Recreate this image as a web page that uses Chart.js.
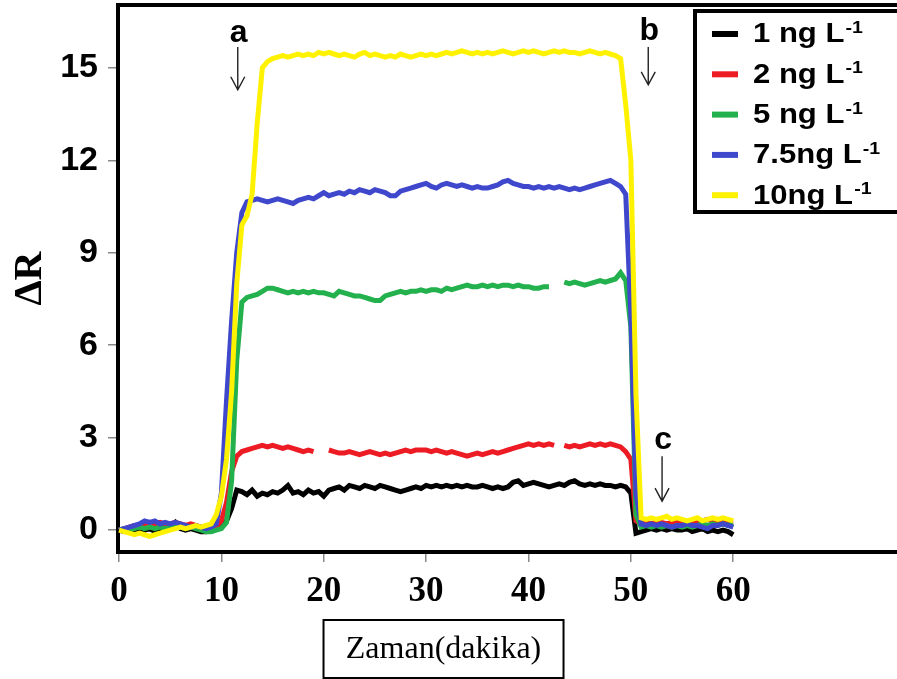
<!DOCTYPE html>
<html>
<head>
<meta charset="utf-8">
<script src="https://cdn.jsdelivr.net/npm/chart.js@4.4.1/dist/chart.umd.min.js"></script>
<style>
body{margin:0;background:#fff;}
</style>
</head>
<body>
<canvas id="grafik" width="897" height="679"></canvas>
<script>
// zaman (dakika)
const zaman = [
  0,0.5,1,1.5,2,2.5,3,3.5,4,4.5,
  5,5.5,6,6.5,7,7.5,8,8.5,9,9.5,
  10,10.5,11,11.5,12,12.5,13,13.5,14,14.5,
  15,15.5,16,16.5,17,17.5,18,18.5,19,19.5,
  20,20.5,21,21.5,22,22.5,23,23.5,24,24.5,
  25,25.5,26,26.5,27,27.5,28,28.5,29,29.5,
  30,30.5,31,31.5,32,32.5,33,33.5,34,34.5,
  35,35.5,36,36.5,37,37.5,38,38.5,39,39.5,
  40,40.5,41,41.5,42,42.5,43,43.5,44,44.5,
  45,45.5,46,46.5,47,47.5,48,48.5,49,49.5,
  50,50.5,51,51.5,52,52.5,53,53.5,54,54.5,
  55,55.5,56,56.5,57,57.5,58,58.5,59,59.5,
  60
];

// 1 ng L-1
const seri1 = [
  0.0,-0.05,0.05,0.0,0.05,0.0,0.05,-0.05,0.0,0.05,
  0.1,0.25,0.05,0.0,0.05,0.0,-0.05,-0.05,0.0,0.05,
  0.1,0.3,0.7,1.3,1.25,1.15,1.3,1.1,1.2,1.15,
  1.25,1.2,1.3,1.45,1.2,1.25,1.15,1.3,1.2,1.25,
  1.1,1.3,1.35,1.4,1.3,1.45,1.4,1.35,1.45,1.4,
  1.35,1.45,1.4,1.35,1.3,1.25,1.3,1.35,1.4,1.35,
  1.45,1.4,1.45,1.4,1.45,1.4,1.45,1.4,1.45,1.4,
  1.4,1.45,1.4,1.35,1.4,1.35,1.4,1.55,1.6,1.45,
  1.5,1.55,1.5,1.45,1.4,1.45,1.5,1.45,1.55,1.6,
  1.5,1.45,1.5,1.45,1.5,1.45,1.45,1.4,1.45,1.4,
  1.2,-0.1,-0.05,0.0,0.05,0.0,0.05,0.0,0.05,0.0,
  0.0,0.05,-0.05,0.0,0.05,-0.05,0.0,-0.05,0.0,-0.05,
  -0.15
];

// 2 ng L-1
const seri2 = [
  0.0,0.05,0.1,0.15,0.1,0.2,0.25,0.2,0.25,0.2,
  0.2,0.25,0.2,0.15,0.2,0.15,0.1,0.05,0.05,0.1,
  0.3,0.9,1.9,2.4,2.55,2.6,2.65,2.7,2.75,2.7,
  2.75,2.7,2.65,2.7,2.65,2.6,2.55,2.6,2.55,null,
  null,2.6,2.55,2.5,2.5,2.55,2.5,2.45,2.5,2.55,
  2.5,2.45,2.5,2.45,2.5,2.55,2.6,2.55,2.6,2.6,
  2.6,2.55,2.6,2.55,2.5,2.55,2.5,2.45,2.4,2.45,
  2.5,2.45,2.5,2.55,2.5,2.55,2.6,2.65,2.7,2.75,
  2.8,2.75,2.8,2.75,2.8,2.75,null,2.75,2.7,2.75,
  2.7,2.75,2.8,2.75,2.8,2.75,2.8,2.75,2.7,2.55,
  2.3,0.3,0.2,0.25,0.2,0.3,0.25,0.2,0.25,0.3,
  0.3,0.25,0.3,0.25,0.3,0.35,0.3,0.25,0.3,0.25,
  0.25
];

// 5 ng L-1
const seri3 = [
  0.0,0.05,0.0,0.05,0.1,0.05,0.1,0.05,0.1,0.05,
  0.1,0.15,0.1,0.05,0.1,0.05,0.0,-0.05,-0.05,0.0,
  0.05,0.25,1.6,5.5,7.4,7.55,7.6,7.65,7.75,7.85,
  7.85,7.8,7.75,7.7,7.75,7.7,7.75,7.7,7.75,7.7,
  7.7,7.65,7.6,7.75,7.7,7.65,7.6,7.6,7.55,7.5,
  7.45,7.45,7.6,7.65,7.7,7.75,7.7,7.75,7.75,7.8,
  7.75,7.8,7.8,7.75,7.85,7.8,7.85,7.9,7.95,7.9,
  7.9,7.95,7.9,7.95,7.9,7.95,7.95,7.9,7.95,7.9,
  7.9,7.85,7.85,7.9,7.9,null,null,8.05,8.0,8.05,
  8.0,7.95,8.0,8.05,8.1,8.05,8.1,8.15,8.35,8.1,
  6.6,0.5,0.1,0.15,0.1,0.15,0.1,0.15,0.1,0.15,
  0.1,0.15,0.1,0.15,0.2,0.15,0.2,0.15,0.2,0.15,
  0.2
];

// 7.5 ng L-1
const seri4 = [
  0.0,0.05,0.1,0.15,0.2,0.3,0.25,0.3,0.2,0.25,
  0.2,0.25,0.2,0.15,0.1,0.15,0.1,0.05,0.1,0.2,
  1.2,4.2,6.8,9.0,10.3,10.65,10.7,10.75,10.7,10.65,
  10.7,10.75,10.7,10.65,10.6,10.7,10.75,10.8,10.75,10.85,
  10.95,10.85,10.9,10.95,10.9,11.0,10.95,11.05,11.0,10.95,
  11.05,11.0,10.95,10.85,10.85,11.0,11.05,11.1,11.15,11.2,
  11.25,11.15,11.1,11.2,11.25,11.2,11.15,11.2,11.15,11.1,
  11.15,11.1,11.1,11.15,11.2,11.3,11.35,11.25,11.2,11.15,
  11.15,11.1,11.15,11.1,11.15,11.1,11.15,11.1,11.05,11.1,
  11.05,11.1,11.15,11.2,11.25,11.3,11.35,11.25,11.15,10.9,
  7.0,1.2,0.2,0.15,0.2,0.15,0.2,0.15,0.1,0.15,
  0.15,0.2,0.15,0.15,0.1,0.05,0.15,0.15,0.2,0.15,
  0.1
];

// 10 ng L-1
const seri5 = [
  0.0,-0.05,-0.1,-0.15,-0.1,-0.15,-0.2,-0.15,-0.1,-0.05,
  0.0,0.05,0.1,0.05,0.1,0.15,0.1,0.15,0.2,0.5,
  1.1,2.3,4.5,8.0,9.9,10.2,10.9,13.2,15.0,15.2,
  15.3,15.35,15.4,15.35,15.4,15.45,15.4,15.45,15.4,15.5,
  15.45,15.5,15.45,15.4,15.45,15.4,15.35,15.45,15.5,15.4,
  15.45,15.4,15.35,15.4,15.35,15.45,15.4,15.35,15.4,15.45,
  15.4,15.45,15.4,15.45,15.5,15.45,15.5,15.55,15.5,15.45,
  15.5,15.45,15.5,15.45,15.5,15.55,15.5,15.45,15.5,15.55,
  15.5,15.55,15.5,15.45,15.5,15.55,15.5,15.55,15.5,15.5,
  15.45,15.5,15.55,15.5,15.45,15.5,15.45,15.4,15.3,13.8,
  12.0,4.4,0.4,0.35,0.4,0.35,0.4,0.45,0.35,0.4,
  0.35,0.3,0.35,0.4,0.3,0.35,0.4,0.35,0.4,0.35,
  0.3
];

const seriler = [seri1, seri2, seri3, seri4, seri5];
const etiketler = ['1 ng L', '2 ng L', '5 ng L', '7.5ng L', '10ng L'];
const renkler = ['#000000', '#ED1C24', '#22B14C', '#3F48CC', '#FFF200'];
const xTikler = [0, 10, 20, 30, 40, 50, 60];
const yTikler = [0, 3, 6, 9, 12, 15];

// a, b, c oklari (veri koordinatlari)
const oklar = [
  {harf: 'a', x: 11.6, yazi: 15.84, y1: 15.68, y2: 14.29},
  {harf: 'b', x: 51.7, yazi: 15.9, y1: 15.68, y2: 14.45},
  {harf: 'c', x: 53.05, yazi: 2.62, y1: 2.4, y2: 0.94}
];

const cizimler = {
  id: 'cizimler',
  afterDraw(chart) {
    const ctx = chart.ctx;
    const area = chart.chartArea;
    const xs = chart.scales.x, ys = chart.scales.y;
    ctx.save();

    // ust cerceve
    ctx.strokeStyle = '#000';
    ctx.lineWidth = 4;
    ctx.beginPath();
    ctx.moveTo(area.left - 2, area.top);
    ctx.lineTo(area.right, area.top);
    ctx.stroke();

    // oklar
    oklar.forEach(o => {
      const px = xs.getPixelForValue(o.x);
      ctx.font = 'bold 32px "Liberation Sans", Arial';
      ctx.fillStyle = '#000';
      ctx.textAlign = 'center';
      ctx.textBaseline = 'alphabetic';
      ctx.fillText(o.harf, px + 1, ys.getPixelForValue(o.yazi));
      const y1 = ys.getPixelForValue(o.y1), y2 = ys.getPixelForValue(o.y2);
      ctx.strokeStyle = '#222';
      ctx.lineWidth = 1.4;
      ctx.beginPath();
      ctx.moveTo(px, y1); ctx.lineTo(px, y2);
      ctx.moveTo(px - 7, y2 - 13); ctx.lineTo(px, y2); ctx.lineTo(px + 7, y2 - 13);
      ctx.stroke();
    });

    // lejant
    ctx.fillStyle = '#fff';
    ctx.fillRect(695, 11, 210, 201);
    ctx.strokeStyle = '#000';
    ctx.lineWidth = 4;
    ctx.strokeRect(695, 11, 210, 201);
    chart.data.datasets.forEach((ds, i) => {
      const yy = 34 + i * 40.3;
      ctx.strokeStyle = ds.borderColor;
      ctx.lineWidth = 6;
      ctx.beginPath();
      ctx.moveTo(712, yy); ctx.lineTo(738, yy);
      ctx.stroke();
      ctx.save();
      ctx.translate(753, yy);
      ctx.scale(1.15, 1);
      ctx.fillStyle = '#000';
      ctx.textAlign = 'left';
      ctx.textBaseline = 'middle';
      ctx.font = 'bold 27px "Liberation Sans", Arial';
      ctx.fillText(ds.label, 0, 1);
      const w = ctx.measureText(ds.label).width;
      ctx.textBaseline = 'alphabetic';
      ctx.font = 'bold 17px "Liberation Sans", Arial';
      ctx.fillText('-1', w + 1, -1);
      ctx.restore();
    });

    // x ekseni basligi
    const cx = xs.getPixelForValue(31.7);
    ctx.fillStyle = '#fff';
    ctx.fillRect(cx - 120, 620, 240, 58);
    ctx.strokeStyle = '#000';
    ctx.lineWidth = 2;
    ctx.strokeRect(cx - 120, 620, 240, 58);
    ctx.fillStyle = '#000';
    ctx.textAlign = 'center';
    ctx.textBaseline = 'middle';
    ctx.font = '32px "Liberation Serif", "Times New Roman"';
    ctx.fillText('Zaman(dakika)', cx, 650);

    ctx.restore();
  }
};

new Chart(document.getElementById('grafik'), {
  type: 'line',
  data: {
    datasets: seriler.map((s, i) => ({
      label: etiketler[i],
      data: zaman.map((t, j) => ({x: t, y: s[j]})),
      borderColor: renkler[i],
      backgroundColor: renkler[i],
      borderWidth: 5,
      pointRadius: 0,
      tension: 0,
      spanGaps: false,
      order: 4 - i
    }))
  },
  options: {
    responsive: false,
    animation: false,
    devicePixelRatio: 1,
    layout: {padding: {top: 5, left: 0, right: 0, bottom: 0}},
    plugins: {legend: {display: false}, tooltip: {enabled: false}},
    scales: {
      x: {
        type: 'linear',
        min: -0.1,
        max: 76,
        afterBuildTicks: s => { s.ticks = xTikler.map(v => ({value: v})); },
        afterFit: s => { s.height = 127; s.paddingLeft = 0; s.paddingRight = 0; },
        border: {display: true, color: '#000', width: 4},
        grid: {drawOnChartArea: false, drawTicks: true, tickLength: 10, color: '#888', lineWidth: 1.5},
        ticks: {
          font: {family: '"Liberation Serif", "Times New Roman"', weight: 'bold', size: 35},
          color: '#000', padding: 9, maxRotation: 0, autoSkip: false
        }
      },
      y: {
        min: -0.71,
        max: 17.04,
        afterBuildTicks: s => { s.ticks = yTikler.map(v => ({value: v})); },
        afterFit: s => { s.width = 118; s.paddingTop = 0; s.paddingBottom = 0; },
        border: {display: true, color: '#000', width: 4},
        grid: {drawOnChartArea: false, drawTicks: true, tickLength: 10, color: '#888', lineWidth: 1.5},
        ticks: {
          font: {family: '"Liberation Sans", Arial', weight: 'bold', size: 34},
          color: '#000', padding: 10
        },
        title: {
          display: true, text: 'ΔR', color: '#000',
          font: {family: '"Liberation Serif", "Times New Roman"', weight: 'bold', size: 40},
          padding: {top: 7, bottom: 0}
        }
      }
    }
  },
  plugins: [cizimler]
});
</script>
</body>
</html>
